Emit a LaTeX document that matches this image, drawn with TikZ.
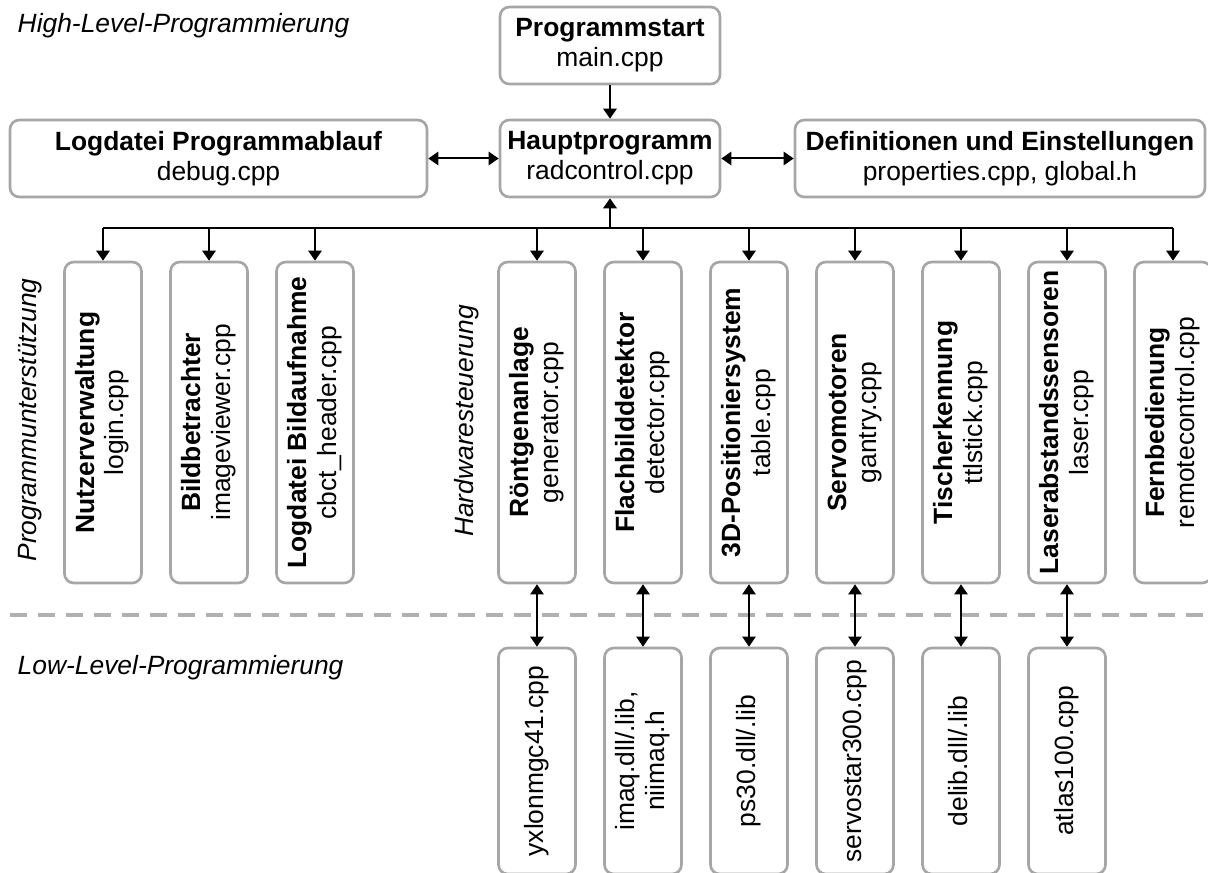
\documentclass[tikz,border=0pt]{standalone}
\usepackage{fontspec}
\setmainfont{Liberation Sans}
\usepackage{graphicx}
\usetikzlibrary{arrows.meta,positioning}
\definecolor{boxgray}{RGB}{166,166,166}
\definecolor{linegray}{RGB}{176,176,176}
\newcommand{\vlabel}[2]{\rotatebox{90}{\begin{tabular}{@{}c@{}}\textbf{#1}\\#2\end{tabular}}}
\newcommand{\vfile}[1]{\rotatebox{90}{\begin{tabular}{@{}c@{}}#1\end{tabular}}}

\begin{document}
\begin{tikzpicture}[x=0.75pt,y=-0.75pt,>={Triangle[width=10pt,length=7.5pt]},node distance=79.5pt,
  every node/.style={font=\fontsize{19.8}{22.5}\selectfont},
  hbox/.style={draw=boxgray,line width=2pt,rounded corners=7pt,fill=white,align=center,minimum height=57.75pt},
  vbox/.style={draw=boxgray,line width=2pt,rounded corners=7pt,fill=white,minimum width=57.75pt,minimum height=240.75pt},
  lbox/.style={vbox,minimum height=169.5pt},
  link/.style={line width=1.5pt},
  side/.style={font=\fontsize{19.8}{22.5}\selectfont\itshape}]
  \useasboundingbox (0,0) rectangle (1208,873);

  \node[hbox,minimum width=165pt](start) at (610,45.5){\textbf{Programmstart}\\main.cpp};
  \node[hbox,minimum width=165pt](haupt) at (610,158.5){\textbf{Hauptprogramm}\\radcontrol.cpp};
  \node[hbox,minimum width=312.75pt](logprog) at (218.5,158.5){\textbf{Logdatei Programmablauf}\\debug.cpp};
  \node[hbox,minimum width=307.5pt](defs) at (1000,158.5){\textbf{Definitionen und Einstellungen}\\properties.cpp, global.h};

  \node[vbox](nutzer) at (103,422.5){\vlabel{Nutzerverwaltung}{login.cpp}};
  \node[vbox](bild)[right of=nutzer]{\vlabel{Bildbetrachter}{imageviewer.cpp}};
  \node[vbox](logbild)[right of=bild]{\vlabel{Logdatei Bildaufnahme}{cbct\_header.cpp}};
  \node[vbox](roent) at (537,422.5){\vlabel{Röntgenanlage}{generator.cpp}};
  \node[vbox](flach)[right of=roent]{\vlabel{Flachbilddetektor}{detector.cpp}};
  \node[vbox](pos)[right of=flach]{\vlabel{3D-Positioniersystem}{table.cpp}};
  \node[vbox](servo)[right of=pos]{\vlabel{Servomotoren}{gantry.cpp}};
  \node[vbox](tisch)[right of=servo]{\vlabel{Tischerkennung}{ttlstick.cpp}};
  \node[vbox](laser)[right of=tisch]{\vlabel{Laserabstandssensoren}{laser.cpp}};
  \node[vbox](fern)[right of=laser]{\vlabel{Fernbedienung}{remotecontrol.cpp}};

  \node[lbox](yxlon) at (537,761){\vfile{yxlonmgc41.cpp}};
  \node[lbox](imaq)[right of=yxlon]{\vfile{imaq.dll/.lib,\\niimaq.h}};
  \node[lbox](ps)[right of=imaq]{\vfile{ps30.dll/.lib}};
  \node[lbox](servolib)[right of=ps]{\vfile{servostar300.cpp}};
  \node[lbox](delib)[right of=servolib]{\vfile{delib.dll/.lib}};
  \node[lbox](atlas)[right of=delib]{\vfile{atlas100.cpp}};

  \node[side,anchor=base west](high) at (13,33){High-Level-Programmierung};
  \node[side,anchor=base west](low) at (13,675){Low-Level-Programmierung};
  \node[side,rotate=90](unterst) at (30,420){Programmunterstützung};
  \node[side,rotate=90](hw) at (467,421){Hardwaresteuerung};

  \draw[linegray,line width=2.6pt,dash pattern=on 12.75pt off 8.25pt] (10,615) -- (1208,615);

  \coordinate (bus) at (610,228);
  \draw[link,->] (start) -- (haupt);
  \draw[link,<->] (logprog) -- (haupt);
  \draw[link,<->] (haupt) -- (defs);
  \draw[line width=2pt,->] (bus) -- (haupt);
  \foreach \n in {nutzer,bild,logbild,roent,flach,pos,servo,tisch,laser,fern}{
    \coordinate (t-\n) at (\n |- bus);
    \draw[link,->] (t-\n) -- (\n);
  }
  \draw[link] (t-nutzer) -- (t-fern);
  \foreach \a/\b in {roent/yxlon,flach/imaq,pos/ps,servo/servolib,tisch/delib,laser/atlas}
    \draw[line width=1pt,<->] (\a) -- (\b);
\end{tikzpicture}
\end{document}
